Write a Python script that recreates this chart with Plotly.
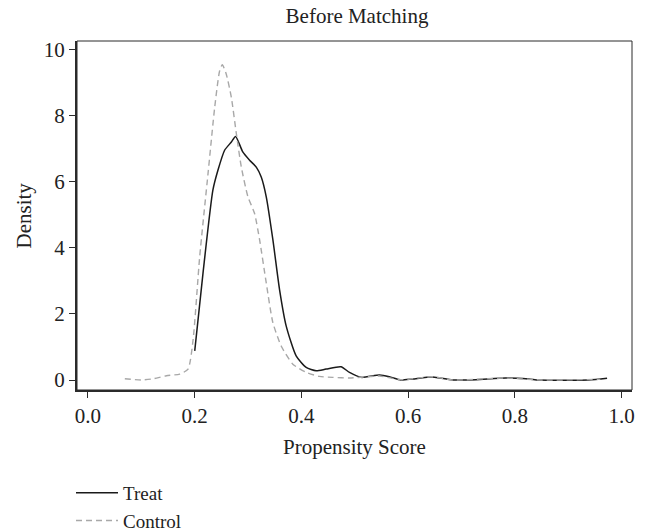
import plotly.graph_objects as go

# Data
treat_x = [0.200, 0.2155, 0.234, 0.2436, 0.256, 0.2686, 0.2766, 0.290, 0.3028, 0.3153,
           0.3246, 0.334, 0.3464, 0.3589, 0.3713, 0.390, 0.4088, 0.4275, 0.446, 0.474,
           0.490, 0.512, 0.546, 0.5645, 0.586, 0.608, 0.6455, 0.683, 0.7265, 0.7826,
           0.826, 0.845, 0.938, 0.9726]
treat_y = [0.88, 3.24, 5.75, 6.36, 6.96, 7.21, 7.38, 6.91, 6.66, 6.45,
           6.15, 5.55, 4.25, 2.74, 1.64, 0.73, 0.38, 0.28, 0.33, 0.40,
           0.23, 0.08, 0.15, 0.10, 0.0, 0.03, 0.09, 0.0, 0.01, 0.06,
           0.03, 0.0, 0.0, 0.05]

control_x = [0.069, 0.10, 0.120, 0.147, 0.172, 0.1875, 0.197, 0.2093, 0.2249, 0.2374,
             0.2467, 0.2517, 0.259, 0.2686, 0.278, 0.2873, 0.2997, 0.312, 0.3215, 0.334,
             0.3464, 0.362, 0.3838, 0.4088, 0.4336, 0.4586, 0.490, 0.546, 0.586, 0.6455,
             0.683, 0.780, 0.850, 0.960]
control_y = [0.04, 0.0, 0.03, 0.13, 0.18, 0.33, 1.23, 3.74, 6.25, 8.26,
             9.37, 9.55, 9.27, 8.56, 7.46, 6.45, 5.55, 5.05, 4.25, 2.94,
             1.74, 1.03, 0.48, 0.23, 0.11, 0.08, 0.06, 0.12, 0.01, 0.10,
             0.0, 0.06, 0.0, 0.02]

x_ticks = [0.0, 0.2, 0.4, 0.6, 0.8, 1.0]
x_tick_labels = ["0.0", "0.2", "0.4", "0.6", "0.8", "1.0"]
y_ticks = [0, 2, 4, 6, 8, 10]
y_tick_labels = ["0", "2", "4", "6", "8", "10"]

FONT = "Liberation Serif, Times New Roman, serif"
AX = "#2b2b2b"
TXT = "#222"
FS = 21

fig = go.Figure()
fig.add_trace(go.Scatter(x=treat_x, y=treat_y, mode="lines", name="Treat",
                         line=dict(color="#1a1a1a", width=1.5, shape="spline", smoothing=0.6)))
fig.add_trace(go.Scatter(x=control_x, y=control_y, mode="lines", name="Control",
                         line=dict(color="#a8a8a8", width=1.4, dash="6px,4px",
                                   shape="spline", smoothing=0.6)))

# thin frame on top/right
fig.add_shape(type="rect", xref="paper", yref="paper", x0=0, y0=0, x1=1, y1=1,
              line=dict(color=AX, width=1), layer="above")

fig.update_layout(
    width=646, height=532,
    margin=dict(l=77, r=14, t=41, b=142, autoexpand=False),
    paper_bgcolor="white", plot_bgcolor="white",
    font=dict(family=FONT, size=FS, color=TXT),
    title=dict(text="Before Matching", x=357 / 646, xanchor="center",
               xref="container", yref="container", y=1 - 16 / 532, yanchor="middle",
               font=dict(family=FONT, size=FS, color=TXT)),
    showlegend=True,
    legend=dict(xref="container", yref="container",
                x=71 / 646, xanchor="left", y=1 - 474 / 532, yanchor="top",
                font=dict(family=FONT, size=19, color=TXT),
                bgcolor="rgba(0,0,0,0)", tracegroupgap=0, itemwidth=42),
)
fig.update_xaxes(range=[-0.0206, 1.0193], tickvals=x_ticks, ticktext=x_tick_labels,
                 showgrid=False, zeroline=False, showline=True, linecolor=AX, linewidth=2,
                 ticks="outside", ticklen=6, tickcolor=AX, tickwidth=1.2,
                 tickfont=dict(family=FONT, size=FS, color=TXT))
fig.update_yaxes(range=[-0.303, 10.27], tickvals=y_ticks, ticktext=y_tick_labels,
                 showgrid=False, zeroline=False, showline=True, linecolor=AX, linewidth=2,
                 ticks="outside", ticklen=6, tickcolor=AX, tickwidth=1.2,
                 tickfont=dict(family=FONT, size=FS, color=TXT))

# axis titles placed as annotations (exact positions)
fig.add_annotation(text="Propensity Score", xref="paper", yref="paper",
                   x=0.5, y=-57 / 349, xanchor="center", yanchor="middle",
                   showarrow=False, font=dict(family=FONT, size=FS, color=TXT))
fig.add_annotation(text="Density", xref="paper", yref="paper",
                   x=-54 / 555, y=0.5, xanchor="center", yanchor="middle", textangle=-90,
                   showarrow=False, font=dict(family=FONT, size=FS, color=TXT))

fig.write_html("out.html")
